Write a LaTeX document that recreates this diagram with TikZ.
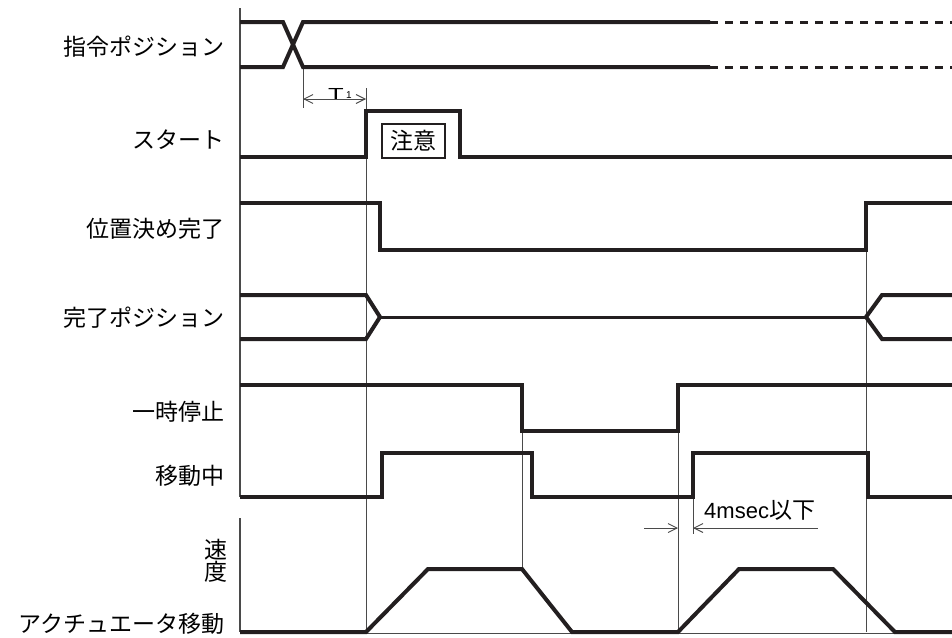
\documentclass[tikz,border=0pt]{standalone}
\usepackage{fontspec}
\usepackage{graphicx}
\setmainfont{Liberation Sans}
\newfontfamily\jp{Noto Sans CJK JP}
\usetikzlibrary{arrows.meta}
\definecolor{ink}{HTML}{231F20}
\definecolor{thinc}{HTML}{4A4A4A}
\begin{document}
\begin{tikzpicture}[x=1pt,y=-1pt,
  sig/.style={ink, line width=4pt, line join=miter},
  sigmid/.style={ink, line width=3pt},
  sigdash/.style={ink, line width=3pt, dash pattern=on 8pt off 7pt},
  guide/.style={thinc, line width=0.9pt},
  axisline/.style={thinc, line width=1.4pt},
  dimline/.style={thinc, line width=0.9pt},
  barb/.tip={Straight Barb[length=9pt,width=9pt]},
  lbl/.style={anchor=east, inner sep=0pt, font=\jp\fontsize{23}{26}\selectfont},
]
\useasboundingbox (0,0) rectangle (952,637);

% labels
\node[lbl] (l1) at (225,47) {指令ポジション};
\node[lbl] (l2) at (225,140) {スタート};
\node[lbl] (l3) at (225,229) {位置決め完了};
\node[lbl] (l4) at (225,318) {完了ポジション};
\node[lbl] (l5) at (225,412) {一時停止};
\node[lbl] (l6) at (225,476) {移動中};
\node[lbl, align=center, font=\jp\fontsize{23}{20}\selectfont] (l7a) at (228,561) {速\\度};
\node[lbl] (l7) at (225,624) {アクチュエータ移動};

% axes
\draw[axisline] (240,8) -- (240,497);
\draw[axisline] (240,518) -- (240,632);

% guide lines
\draw[guide] (303,67) -- (303,108);
\draw[guide] (366,88) -- (366,632);
\draw[guide] (522,431) -- (522,569);
\draw[guide] (678,431) -- (678,632);
\draw[guide] (693,497) -- (693,534);
\draw[guide] (866,250) -- (866,632);
\draw[guide] (366,633) -- (952,633);

% 指令ポジション
\draw[sig] (240,22) -- (283,22) -- (303,67) -- (710,67);
\draw[sig] (240,67) -- (283,67) -- (303,22) -- (710,22);
\draw[sigdash] (710,22) -- (952,22);
\draw[sigdash] (710,67) -- (952,67);

% T1
\draw[dimline, barb-barb] (303,99) -- (366,99);
\node[inner sep=0pt, anchor=base, font=\fontsize{16}{16}\selectfont] (t1) at (336,99.5) {\scalebox{1.6}[1]{T}};
\node[inner sep=0pt, anchor=base west, font=\fontsize{10}{10}\selectfont] (t1s) at (346,98) {1};

% スタート
\draw[sig] (240,157) -- (366,157) -- (366,111) -- (460,111) -- (460,157) -- (952,157);
\node[draw=ink, line width=1.2pt, minimum width=63pt, minimum height=34pt, inner sep=0pt,
      font=\jp\fontsize{23}{26}\selectfont] (chui) at (413.5,141) {注意};

% 位置決め完了
\draw[sig] (240,203) -- (380,203) -- (380,250) -- (866,250) -- (866,203) -- (952,203);

% 完了ポジション
\draw[sig] (240,295) -- (366,295) -- (380,317) -- (366,339) -- (240,339);
\draw[sigmid] (380,317) -- (866,317);
\draw[sig] (952,295) -- (882,295) -- (866,317) -- (882,339) -- (952,339);

% 一時停止
\draw[sig] (240,385) -- (522,385) -- (522,431) -- (678,431) -- (678,385) -- (952,385);

% 移動中
\draw[sig] (240,497) -- (382,497) -- (382,453) -- (532,453) -- (532,497) -- (693,497)
  -- (693,453) -- (868,453) -- (868,497) -- (952,497);

% 4msec以下
\draw[dimline, -barb] (644,528) -- (678,528);
\draw[dimline, barb-] (693,528) -- (818,528);
\node[inner sep=0pt, anchor=base west] (ms) at (704,518)
  {\fontsize{22}{24}\selectfont 4msec{\jp\fontsize{23}{24}\selectfont 以下}};

% 速度
\draw[sig] (240,632) -- (366,632) -- (428,569) -- (522,569) -- (572,632) -- (678,632)
  -- (739,569) -- (833,569) -- (895,632) -- (952,632);
\end{tikzpicture}
\end{document}
